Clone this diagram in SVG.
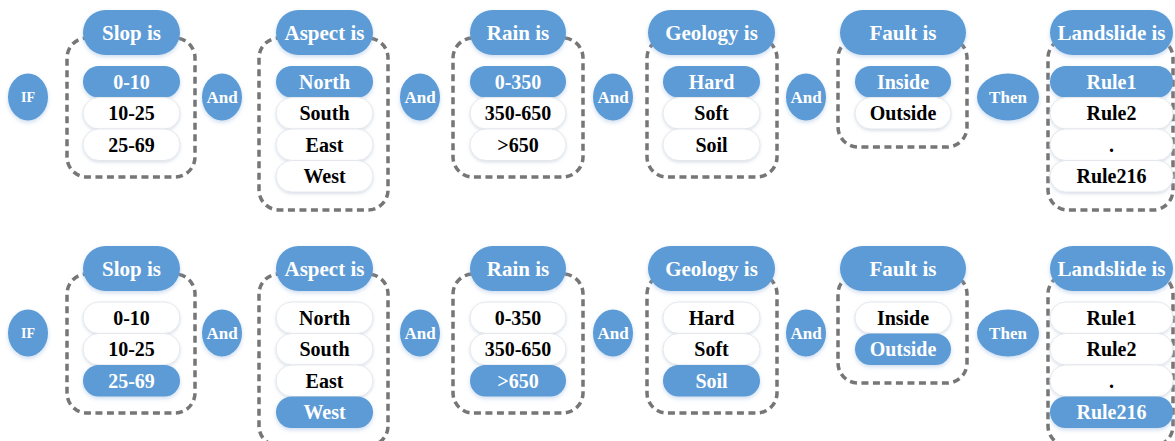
<svg xmlns="http://www.w3.org/2000/svg" width="1175" height="441" viewBox="0 0 1175 441">
<defs>
<filter id="sh" x="-20%" y="-30%" width="140%" height="170%">
<feDropShadow dx="0" dy="2" stdDeviation="2" flood-color="#8fb2dc" flood-opacity="0.45"/>
</filter>
<filter id="shw" x="-20%" y="-30%" width="140%" height="170%">
<feDropShadow dx="0" dy="1.5" stdDeviation="1.8" flood-color="#b8c4d4" flood-opacity="0.5"/>
</filter>
</defs>
<style>
text{font-family:'Liberation Serif','Times New Roman',serif;font-weight:700;text-anchor:middle}
.box{fill:none;stroke:#767676;stroke-width:3.5;stroke-dasharray:7 4.5}
.pill{fill:#5b9bd5;filter:url(#sh)}
.on{fill:#5b9bd5;filter:url(#sh)}
.off{fill:#ffffff;stroke:#e4e7ec;stroke-width:1;filter:url(#shw)}
.ht{fill:#ffffff;font-size:21px}
.wt{fill:#ffffff;font-size:20px}
.bt{fill:#000000;font-size:20px}
.ct{fill:#ffffff;font-size:17px}
.op{fill:#5b9bd5;filter:url(#sh)}
</style>
<rect width="1175" height="441" fill="#ffffff"/>
<g id="connectors"/>

<!-- ROW 1 -->
<g id="row1">
<g id="if1"><ellipse class="op" cx="28" cy="97" rx="20" ry="23.5"/><text class="ct" x="28" y="102" style="font-size:14px">IF</text></g>

<g id="slop1">
<rect class="box" x="67" y="38" width="128" height="139" rx="20"/>
<rect class="on" x="83" y="66" width="97" height="31.5" rx="15.75"/><text class="wt" x="131.5" y="88.5">0-10</text>
<rect class="off" x="83" y="97.5" width="97" height="31.5" rx="15.75"/><text class="bt" x="131.5" y="120">10-25</text>
<rect class="off" x="83" y="129" width="97" height="31.5" rx="15.75"/><text class="bt" x="131.5" y="151.5">25-69</text>
<rect class="pill" x="83" y="10" width="97" height="45" rx="22.5"/><text class="ht" x="131.5" y="40">Slop is</text>
</g>

<g id="and1a"><ellipse class="op" cx="222" cy="97" rx="20" ry="23.5"/><text class="ct" x="222" y="103">And</text></g>

<g id="aspect1">
<rect class="box" x="259" y="38" width="129" height="172" rx="20"/>
<rect class="on" x="276" y="66" width="97" height="31.5" rx="15.75"/><text class="wt" x="324.5" y="88.5">North</text>
<rect class="off" x="276" y="97.5" width="97" height="31.5" rx="15.75"/><text class="bt" x="324.5" y="120">South</text>
<rect class="off" x="276" y="129" width="97" height="31.5" rx="15.75"/><text class="bt" x="324.5" y="151.5">East</text>
<rect class="off" x="276" y="160.5" width="97" height="31.5" rx="15.75"/><text class="bt" x="324.5" y="183">West</text>
<rect class="pill" x="276" y="10" width="97" height="45" rx="22.5"/><text class="ht" x="324.5" y="40">Aspect is</text>
</g>

<g id="and1b"><ellipse class="op" cx="420" cy="97" rx="20" ry="23.5"/><text class="ct" x="420" y="103">And</text></g>

<g id="rain1">
<rect class="box" x="453" y="38" width="130" height="139" rx="20"/>
<rect class="on" x="470" y="66" width="96" height="31.5" rx="15.75"/><text class="wt" x="518" y="88.5">0-350</text>
<rect class="off" x="470" y="97.5" width="96" height="31.5" rx="15.75"/><text class="bt" x="518" y="120">350-650</text>
<rect class="off" x="470" y="129" width="96" height="31.5" rx="15.75"/><text class="bt" x="518" y="151.5">&gt;650</text>
<rect class="pill" x="470" y="10" width="96" height="45" rx="22.5"/><text class="ht" x="518" y="40">Rain is</text>
</g>

<g id="and1c"><ellipse class="op" cx="613" cy="97" rx="20" ry="23.5"/><text class="ct" x="613" y="103">And</text></g>

<g id="geology1">
<rect class="box" x="647" y="38" width="130" height="139" rx="20"/>
<rect class="on" x="663" y="66" width="97" height="31.5" rx="15.75"/><text class="wt" x="711.5" y="88.5">Hard</text>
<rect class="off" x="663" y="97.5" width="97" height="31.5" rx="15.75"/><text class="bt" x="711.5" y="120">Soft</text>
<rect class="off" x="663" y="129" width="97" height="31.5" rx="15.75"/><text class="bt" x="711.5" y="151.5">Soil</text>
<rect class="pill" x="648" y="10" width="127" height="45" rx="22.5"/><text class="ht" x="711.5" y="40">Geology is</text>
</g>

<g id="and1d"><ellipse class="op" cx="806" cy="97" rx="20" ry="23.5"/><text class="ct" x="806" y="103">And</text></g>

<g id="fault1">
<rect class="box" x="838" y="38" width="129" height="109" rx="20"/>
<rect class="on" x="855" y="66" width="96" height="31.5" rx="15.75"/><text class="wt" x="903" y="88.5">Inside</text>
<rect class="off" x="855" y="97.5" width="96" height="31.5" rx="15.75"/><text class="bt" x="903" y="120">Outside</text>
<rect class="pill" x="840" y="10" width="126" height="45" rx="22.5"/><text class="ht" x="903" y="40">Fault is</text>
</g>

<g id="then1"><ellipse class="op" cx="1008" cy="97" rx="31" ry="23.5"/><text class="ct" x="1008" y="103">Then</text></g>

<g id="landslide1">
<rect class="box" x="1048" y="38" width="125" height="172" rx="20"/>
<rect class="on" x="1050" y="66" width="123" height="31.5" rx="15.75"/><text class="wt" x="1111.5" y="88.5">Rule1</text>
<rect class="off" x="1050" y="97.5" width="123" height="31.5" rx="15.75"/><text class="bt" x="1111.5" y="120">Rule2</text>
<rect class="off" x="1050" y="129" width="123" height="31.5" rx="15.75"/><text class="bt" x="1111.5" y="151.5">.</text>
<rect class="off" x="1050" y="160.5" width="123" height="31.5" rx="15.75"/><text class="bt" x="1111.5" y="183">Rule216</text>
<rect class="pill" x="1050" y="10" width="123" height="45" rx="22.5"/><text class="ht" x="1111.5" y="40">Landslide is</text>
</g>
</g>

<!-- ROW 2 -->
<g id="row2" transform="translate(0,236)">
<g id="if2"><ellipse class="op" cx="28" cy="97" rx="20" ry="23.5"/><text class="ct" x="28" y="102" style="font-size:14px">IF</text></g>

<g id="slop2">
<rect class="box" x="67" y="38" width="128" height="139" rx="20"/>
<rect class="off" x="83" y="66" width="97" height="31.5" rx="15.75"/><text class="bt" x="131.5" y="88.5">0-10</text>
<rect class="off" x="83" y="97.5" width="97" height="31.5" rx="15.75"/><text class="bt" x="131.5" y="120">10-25</text>
<rect class="on" x="83" y="129" width="97" height="31.5" rx="15.75"/><text class="wt" x="131.5" y="151.5">25-69</text>
<rect class="pill" x="83" y="10" width="97" height="45" rx="22.5"/><text class="ht" x="131.5" y="40">Slop is</text>
</g>

<g id="and2a"><ellipse class="op" cx="222" cy="97" rx="20" ry="23.5"/><text class="ct" x="222" y="103">And</text></g>

<g id="aspect2">
<rect class="box" x="259" y="38" width="129" height="172" rx="20"/>
<rect class="off" x="276" y="66" width="97" height="31.5" rx="15.75"/><text class="bt" x="324.5" y="88.5">North</text>
<rect class="off" x="276" y="97.5" width="97" height="31.5" rx="15.75"/><text class="bt" x="324.5" y="120">South</text>
<rect class="off" x="276" y="129" width="97" height="31.5" rx="15.75"/><text class="bt" x="324.5" y="151.5">East</text>
<rect class="on" x="276" y="160.5" width="97" height="31.5" rx="15.75"/><text class="wt" x="324.5" y="183">West</text>
<rect class="pill" x="276" y="10" width="97" height="45" rx="22.5"/><text class="ht" x="324.5" y="40">Aspect is</text>
</g>

<g id="and2b"><ellipse class="op" cx="420" cy="97" rx="20" ry="23.5"/><text class="ct" x="420" y="103">And</text></g>

<g id="rain2">
<rect class="box" x="453" y="38" width="130" height="139" rx="20"/>
<rect class="off" x="470" y="66" width="96" height="31.5" rx="15.75"/><text class="bt" x="518" y="88.5">0-350</text>
<rect class="off" x="470" y="97.5" width="96" height="31.5" rx="15.75"/><text class="bt" x="518" y="120">350-650</text>
<rect class="on" x="470" y="129" width="96" height="31.5" rx="15.75"/><text class="wt" x="518" y="151.5">&gt;650</text>
<rect class="pill" x="470" y="10" width="96" height="45" rx="22.5"/><text class="ht" x="518" y="40">Rain is</text>
</g>

<g id="and2c"><ellipse class="op" cx="613" cy="97" rx="20" ry="23.5"/><text class="ct" x="613" y="103">And</text></g>

<g id="geology2">
<rect class="box" x="647" y="38" width="130" height="139" rx="20"/>
<rect class="off" x="663" y="66" width="97" height="31.5" rx="15.75"/><text class="bt" x="711.5" y="88.5">Hard</text>
<rect class="off" x="663" y="97.5" width="97" height="31.5" rx="15.75"/><text class="bt" x="711.5" y="120">Soft</text>
<rect class="on" x="663" y="129" width="97" height="31.5" rx="15.75"/><text class="wt" x="711.5" y="151.5">Soil</text>
<rect class="pill" x="648" y="10" width="127" height="45" rx="22.5"/><text class="ht" x="711.5" y="40">Geology is</text>
</g>

<g id="and2d"><ellipse class="op" cx="806" cy="97" rx="20" ry="23.5"/><text class="ct" x="806" y="103">And</text></g>

<g id="fault2">
<rect class="box" x="838" y="38" width="129" height="109" rx="20"/>
<rect class="off" x="855" y="66" width="96" height="31.5" rx="15.75"/><text class="bt" x="903" y="88.5">Inside</text>
<rect class="on" x="855" y="97.5" width="96" height="31.5" rx="15.75"/><text class="wt" x="903" y="120">Outside</text>
<rect class="pill" x="840" y="10" width="126" height="45" rx="22.5"/><text class="ht" x="903" y="40">Fault is</text>
</g>

<g id="then2"><ellipse class="op" cx="1008" cy="97" rx="31" ry="23.5"/><text class="ct" x="1008" y="103">Then</text></g>

<g id="landslide2">
<rect class="box" x="1048" y="38" width="125" height="172" rx="20"/>
<rect class="off" x="1050" y="66" width="123" height="31.5" rx="15.75"/><text class="bt" x="1111.5" y="88.5">Rule1</text>
<rect class="off" x="1050" y="97.5" width="123" height="31.5" rx="15.75"/><text class="bt" x="1111.5" y="120">Rule2</text>
<rect class="off" x="1050" y="129" width="123" height="31.5" rx="15.75"/><text class="bt" x="1111.5" y="151.5">.</text>
<rect class="on" x="1050" y="160.5" width="123" height="31.5" rx="15.75"/><text class="wt" x="1111.5" y="183">Rule216</text>
<rect class="pill" x="1050" y="10" width="123" height="45" rx="22.5"/><text class="ht" x="1111.5" y="40">Landslide is</text>
</g>
</g>
</svg>
